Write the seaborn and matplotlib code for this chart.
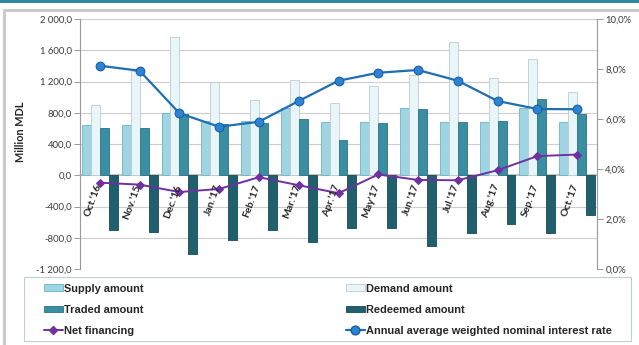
import numpy as np
import pandas as pd
import matplotlib
matplotlib.use("Agg")
import matplotlib.pyplot as plt
import seaborn as sns
from matplotlib.patches import Patch, Rectangle
from matplotlib.lines import Line2D
from matplotlib.ticker import FuncFormatter, FixedLocator

# ---- data (million MDL, interest rate in %) ----
months = ["Oct.'16", "Nov.'15", "Dec.'16", "Jan.'17", "Feb.'17", "Mar.'17", "Apr.'17",
          "May'17", "Jun.'17", "Jul.'17", "Aug.'17", "Sep.'17", "Oct.'17"]
supply = [645, 645, 800, 700, 700, 855, 685, 685, 855, 680, 680, 855, 680]
demand = [900, 1335, 1770, 1200, 960, 1220, 930, 1140, 1285, 1700, 1240, 1485, 1060]
traded = [605, 605, 785, 650, 670, 725, 450, 675, 850, 685, 695, 975, 780]
redeemed = [-700, -730, -1010, -830, -705, -855, -675, -675, -900, -740, -630, -740, -515]
net_financing = [-95, -120, -215, -175, -25, -128, -230, 10, -60, -64, 64, 245, 265]
interest_rate = [8.13, 7.93, 6.23, 5.69, 5.89, 6.72, 7.53, 7.85, 7.96, 7.53, 6.72, 6.40, 6.39]

series_names = ["Supply amount", "Demand amount", "Traded amount", "Redeemed amount"]
bar_colors = ["#9fd4e3", "#e8f5f9", "#3a8ea2", "#1f5f6e"]
edge_colors = ["#6fb3c6", "#b9cdd3", "#2c7285", "#174a56"]
net_color = "#7030a0"
rate_color = "#1f6db3"
rate_face = "#2b83d6"

bars = pd.DataFrame({
    "month": np.tile(months, 4),
    "series": np.repeat(series_names, len(months)),
    "value": np.concatenate([supply, demand, traded, redeemed]),
})
lines = pd.DataFrame({
    "pos": np.arange(len(months)),
    "net": net_financing,
    "rate": interest_rate,
})

sns.set_theme(style="white")
plt.rcParams["font.family"] = ["Lato", "DejaVu Sans"]

W, H = 639, 345
fig = plt.figure(figsize=(W / 100, H / 100), dpi=100)
fig.patch.set_facecolor("white")

def fx(px):
    return px / W

def fy(py):
    return 1 - py / H

ax = fig.add_axes([fx(80), fy(269), fx(597) - fx(80), fy(19) - fy(269)])
ax.set_facecolor("white")

sns.barplot(data=bars, x="month", y="value", hue="series", order=months,
            hue_order=series_names, palette=bar_colors, width=0.9, dodge=True,
            saturation=1, errorbar=None, legend=False, ax=ax, zorder=2)
# per-series edge colours
for cont, ec in zip(ax.containers, edge_colors):
    for p in cont:
        p.set_edgecolor(ec)
        p.set_linewidth(0.6)

sns.lineplot(data=lines, x="pos", y="net", color=net_color, lw=1.4, marker="D",
             markersize=4, markeredgecolor=net_color, markerfacecolor=net_color,
             ax=ax, zorder=5, legend=False)

ax.set_xlim(-0.5, len(months) - 0.5)
ax.set_ylim(-1200, 2000)
ax.set_yticks(np.arange(-1200, 2001, 400))

def mdl_fmt(v, _):
    s = f"{abs(v):,.1f}".replace(",", " ").replace(".", ",")
    return ("-" if v < 0 else "") + s

ax.yaxis.set_major_formatter(FuncFormatter(mdl_fmt))
ax.grid(axis="y", color="#cdcdcd", lw=0.8, zorder=0)
ax.set_axisbelow(True)
ax.set_xlabel("")
ax.set_ylabel("")

# category axis sits on the zero line
ax.spines["bottom"].set_position(("data", 0))
ax.spines["bottom"].set_color("#bdbdbd")
ax.spines["bottom"].set_zorder(1)
ax.xaxis.set_major_locator(FixedLocator(np.arange(-0.5, len(months), 1.0)))
ax.set_xticklabels([])
ax.tick_params(axis="x", direction="out", length=3, color="#bdbdbd", width=0.7)
for s in ("top", "right"):
    ax.spines[s].set_visible(False)
ax.spines["left"].set_color("#9a9a9a")
ax.spines["left"].set_linewidth(0.8)
ax.tick_params(axis="y", direction="out", length=4, color="#9a9a9a", width=0.7,
               labelsize=6.8, labelcolor="#3a3a3a", pad=2)

# rotated month labels just under the zero line
for i, lab in enumerate(months):
    ax.text(i + 0.08, -100, lab, rotation=70, ha="right", va="top",
            fontsize=7.5, fontweight="bold", color="#262626", zorder=6)

# right axis: interest rate
ax2 = ax.twinx()
sns.lineplot(data=lines, x="pos", y="rate", color=rate_color, lw=1.6, marker="o",
             markersize=6.3, markeredgecolor="#1a5d9c", markerfacecolor=rate_face,
             ax=ax2, zorder=5, legend=False)
ax2.set_ylim(0, 10)
ax2.set_yticks(np.arange(0, 10.1, 2))
ax2.yaxis.set_major_formatter(FuncFormatter(lambda v, _: f"{v:.1f}".replace(".", ",") + "%"))
ax2.set_ylabel("")
ax2.set_xlabel("")
for s in ("top", "left", "bottom"):
    ax2.spines[s].set_visible(False)
ax2.spines["right"].set_color("#9a9a9a")
ax2.spines["right"].set_linewidth(0.8)
ax2.tick_params(axis="y", direction="out", length=4, color="#9a9a9a", width=0.7,
                labelsize=6.8, labelcolor="#3a3a3a", pad=2)
ax2.grid(False)

fig.text(fx(20), fy(132), "Million MDL", rotation=90, ha="center", va="center",
         fontsize=7.8, fontweight="bold", color="#262626")

# legend: frame plus two columns of entries
fig.add_artist(Rectangle((fx(24), fy(341)), fx(631) - fx(24), fy(277) - fy(341),
                         transform=fig.transFigure, facecolor="white",
                         edgecolor="#c3cdd1", lw=0.8, zorder=1))

legend_font = {"family": ["Liberation Sans Narrow", "Liberation Sans"],
               "weight": "bold", "size": 7.9}
col1 = [
    (Patch(facecolor=bar_colors[0], edgecolor=edge_colors[0], lw=0.6), "Supply amount"),
    (Patch(facecolor=bar_colors[2], edgecolor=edge_colors[2], lw=0.6), "Traded amount"),
    (Line2D([], [], color=net_color, lw=1.4, marker="D", markersize=4), "Net financing"),
]
col2 = [
    (Patch(facecolor=bar_colors[1], edgecolor=edge_colors[1], lw=0.6), "Demand amount"),
    (Patch(facecolor=bar_colors[3], edgecolor=edge_colors[3], lw=0.6), "Redeemed amount"),
    (Line2D([], [], color=rate_color, lw=1.6, marker="o", markersize=6.3,
            markerfacecolor=rate_face, markeredgecolor="#1a5d9c"),
     "Annual average weighted nominal interest rate"),
]
for x0, col in ((44, col1), (346, col2)):
    h, l = zip(*col)
    leg = fig.legend(h, l, loc="upper left", bbox_to_anchor=(fx(x0), fy(283.5)),
                     frameon=False, borderpad=0, borderaxespad=0,
                     handlelength=1.7, handleheight=0.55, handletextpad=0.1,
                     labelspacing=1.02, prop=legend_font)
    leg.set_zorder(3)
    for t in leg.get_texts():
        t.set_color("#262626")

# page decorations: teal rule on top, grey frame edge
fig.add_artist(Rectangle((0, fy(2.5)), 1, fy(0) - fy(2.5), transform=fig.transFigure,
                         facecolor="#2b8aa0", edgecolor="none"))
fig.add_artist(Line2D([fx(4), 1], [fy(10), fy(10)], transform=fig.transFigure,
                      color="#c9c9c9", lw=2.2))
fig.add_artist(Line2D([fx(4), fx(4)], [fy(10), 0], transform=fig.transFigure,
                      color="#c9c9c9", lw=2.2))

fig.savefig("out.png", dpi=100, facecolor="white")
